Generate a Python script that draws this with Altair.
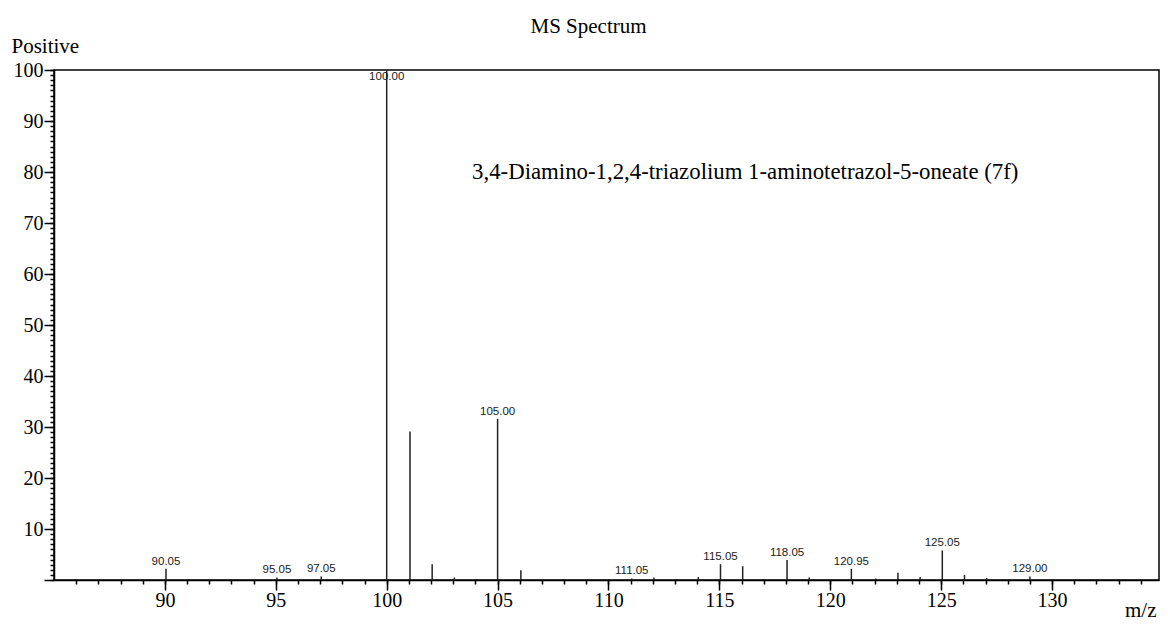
import altair as alt
import pandas as pd

# ---- data ----
mz = [90.05, 95.05, 97.05, 100.00, 101.05, 102.05, 103.05, 105.00, 106.05,
      111.05, 112.05, 114.05, 115.05, 116.05, 118.05, 119.05, 120.95, 122.05,
      123.05, 124.05, 125.05, 126.05, 127.05, 129.00]
intensity = [2.2, 0.5, 0.7, 100.0, 29.1, 3.1, 0.5, 31.6, 1.9,
             0.3, 0.5, 0.6, 3.1, 2.7, 3.9, 0.5, 2.2, 0.3,
             1.4, 0.6, 5.8, 1.0, 0.4, 0.7]
peak_labels = ["90.05", "95.05", "97.05", "100.00", "", "", "", "105.00", "",
               "111.05", "", "", "115.05", "", "118.05", "", "120.95", "",
               "", "", "125.05", "", "", "129.00"]

x_major = [90, 95, 100, 105, 110, 115, 120, 125, 130]
x_minor = list(range(86, 135))
y_major = list(range(0, 101, 10))
y_minor = list(range(0, 101))

annotation_text = ["3,4-Diamino-1,2,4-triazolium 1-aminotetrazol-5-oneate (7f)"]
annotation_mz = [103.85]
annotation_int = [80.0]

df = pd.DataFrame({"mz": mz, "intensity": intensity, "label": peak_labels})
ann = pd.DataFrame({"mz": annotation_mz, "intensity": annotation_int, "text": annotation_text})

SERIF = "Liberation Serif"
xs = alt.Scale(domain=[85, 134.82], nice=False, zero=False)
ys = alt.Scale(domain=[0, 100], nice=False, zero=True)

base = alt.Chart(df)

peaks = base.mark_rule(color="#222222", strokeWidth=1.5).encode(
    x=alt.X("mz:Q", scale=xs,
            axis=alt.Axis(values=x_major, format="d", tickSize=10, labelPadding=0,
                          orient="bottom", title="m/z", titleX=1102, titleY=36,
                          titleAlign="right", titleBaseline="alphabetic",
                          labelFlush=False, labelOverlap=False)),
    y=alt.Y("intensity:Q", scale=ys,
            axis=alt.Axis(values=y_major, format="d", tickSize=10, labelPadding=1,
                          orient="left",
                          labelExpr="datum.value > 0 ? datum.label : ''",
                          title="Positive", titleAngle=0, titleX=-43, titleY=-24,
                          titleAlign="left", titleBaseline="middle",
                          labelFlush=False, labelOverlap=False)),
    y2=alt.datum(0),
)

labels = base.transform_filter(
    "datum.label != '' && datum.intensity < 100"
).mark_text(baseline="bottom", dy=-2, font="Liberation Sans", fontSize=11.5,
            color="#1a1a1a").encode(
    x=alt.X("mz:Q", scale=xs,
            axis=alt.Axis(values=x_minor, labels=False, domain=False, tickSize=4,
                          orient="bottom", title=None)),
    y=alt.Y("intensity:Q", scale=ys,
            axis=alt.Axis(values=y_minor, labels=False, domain=False, tickSize=4,
                          orient="left", title=None)),
    text="label:N",
)

top_label = base.transform_filter("datum.intensity >= 100").mark_text(
    baseline="top", dy=1, font="Liberation Sans", fontSize=11.5, color="#1a1a1a"
).encode(
    x=alt.X("mz:Q", scale=xs, axis=None),
    y=alt.Y("intensity:Q", scale=ys, axis=None),
    text="label:N",
)

annotation = alt.Chart(ann).mark_text(
    align="left", baseline="middle", font=SERIF, fontSize=22.8, color="black"
).encode(
    x=alt.X("mz:Q", scale=xs, axis=None),
    y=alt.Y("intensity:Q", scale=ys, axis=None),
    text="text:N",
)

chart = alt.layer(peaks, labels, top_label, annotation).resolve_axis(
    x="independent", y="independent"
).properties(
    width=1105,
    height=510,
    autosize=alt.AutoSizeParams(type="none"),
    padding={"left": 46, "top": 62, "right": 1, "bottom": 41},
    title=alt.TitleParams("MS Spectrum", font=SERIF, fontSize=21,
                          fontWeight="normal", color="black", anchor="middle",
                          dx=-18, dy=3, offset=1),
).configure_view(
    stroke="black", strokeWidth=1.5
).configure_axis(
    grid=False,
    domainColor="black", domainWidth=1.5,
    tickColor="black", tickWidth=1.5,
    labelColor="black", labelFont=SERIF, labelFontSize=20,
    titleColor="black", titleFont=SERIF, titleFontSize=21, titleFontWeight="normal",
)

chart.save("out.html", embed_options={"renderer": "svg", "actions": False})
